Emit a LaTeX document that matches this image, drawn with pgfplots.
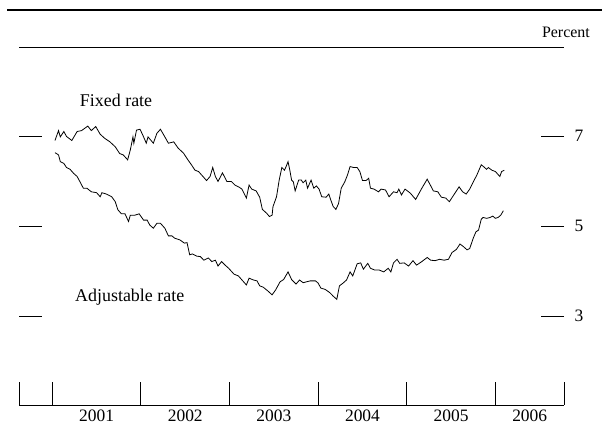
\documentclass[border=0pt]{standalone}
\usepackage{fontspec}
\setmainfont{Liberation Serif}
\usepackage{pgfplots}
\pgfplotsset{compat=1.18}

% weekly rates (percent)
\pgfplotstableread{
t rate
2001.03 6.90
2001.07 7.12
2001.09 6.98
2001.13 7.10
2001.16 6.99
2001.22 6.90
2001.28 7.10
2001.33 7.12
2001.40 7.22
2001.44 7.12
2001.49 7.21
2001.54 7.04
2001.59 6.95
2001.65 6.87
2001.71 6.76
2001.76 6.61
2001.80 6.58
2001.85 6.47
2001.88 6.69
2001.91 6.98
2001.92 6.84
2001.95 7.13
2001.99 7.15
2002.03 6.98
2002.06 6.84
2002.08 6.98
2002.14 6.84
2002.18 7.06
2002.22 7.15
2002.27 6.98
2002.31 6.84
2002.37 6.87
2002.42 6.73
2002.48 6.62
2002.53 6.47
2002.57 6.36
2002.61 6.24
2002.65 6.21
2002.70 6.10
2002.74 6.01
2002.78 6.10
2002.81 6.30
2002.84 6.10
2002.87 5.99
2002.92 6.18
2002.97 5.99
2003.02 5.99
2003.06 5.91
2003.11 5.86
2003.14 5.82
2003.19 5.62
2003.22 5.91
2003.25 5.82
2003.30 5.78
2003.34 5.64
2003.37 5.37
2003.42 5.28
2003.45 5.21
2003.48 5.24
2003.49 5.43
2003.53 5.65
2003.56 6.02
2003.59 6.30
2003.62 6.24
2003.64 6.33
2003.66 6.43
2003.68 6.24
2003.70 6.02
2003.72 5.98
2003.74 5.78
2003.78 6.02
2003.81 6.02
2003.83 5.96
2003.86 6.02
2003.88 5.84
2003.92 6.02
2003.95 5.84
2003.98 5.89
2004.01 5.82
2004.04 5.65
2004.09 5.64
2004.12 5.71
2004.14 5.59
2004.17 5.43
2004.20 5.37
2004.23 5.50
2004.26 5.84
2004.30 5.98
2004.33 6.13
2004.36 6.32
2004.40 6.30
2004.44 6.30
2004.47 6.21
2004.50 6.01
2004.54 6.01
2004.57 6.06
2004.59 5.84
2004.63 5.82
2004.68 5.76
2004.71 5.82
2004.76 5.80
2004.80 5.65
2004.85 5.76
2004.89 5.74
2004.91 5.82
2004.94 5.69
2004.98 5.82
2005.04 5.73
2005.10 5.59
2005.17 5.84
2005.23 6.04
2005.26 5.93
2005.30 5.78
2005.35 5.76
2005.39 5.64
2005.44 5.62
2005.48 5.54
2005.53 5.69
2005.59 5.87
2005.63 5.76
2005.67 5.71
2005.71 5.82
2005.75 5.98
2005.79 6.13
2005.84 6.36
2005.86 6.33
2005.90 6.26
2005.92 6.30
2005.96 6.24
2006.00 6.21
2006.05 6.10
2006.07 6.21
2006.10 6.24
}\fixedtab

\pgfplotstableread{
t rate
2001.03 6.63
2001.07 6.58
2001.09 6.43
2001.13 6.39
2001.16 6.30
2001.20 6.26
2001.24 6.17
2001.28 6.10
2001.31 5.99
2001.35 5.84
2001.39 5.84
2001.44 5.76
2001.50 5.74
2001.54 5.65
2001.56 5.74
2001.61 5.71
2001.67 5.65
2001.71 5.54
2001.74 5.36
2001.78 5.27
2001.82 5.27
2001.86 5.10
2001.88 5.24
2001.93 5.24
2001.98 5.27
2002.03 5.13
2002.07 5.13
2002.10 5.02
2002.14 4.95
2002.18 5.06
2002.22 5.06
2002.27 4.95
2002.31 4.78
2002.35 4.78
2002.38 4.73
2002.44 4.69
2002.49 4.62
2002.52 4.63
2002.55 4.36
2002.58 4.38
2002.63 4.33
2002.67 4.32
2002.71 4.24
2002.76 4.29
2002.80 4.21
2002.84 4.24
2002.87 4.11
2002.91 4.21
2002.95 4.13
2002.99 4.06
2003.05 3.93
2003.10 3.89
2003.14 3.80
2003.19 3.69
2003.22 3.84
2003.27 3.80
2003.31 3.78
2003.34 3.67
2003.38 3.64
2003.43 3.56
2003.48 3.47
2003.52 3.58
2003.57 3.76
2003.61 3.81
2003.66 3.98
2003.70 3.81
2003.75 3.71
2003.79 3.80
2003.83 3.74
2003.87 3.76
2003.91 3.78
2003.97 3.78
2004.00 3.73
2004.03 3.62
2004.08 3.59
2004.13 3.52
2004.17 3.44
2004.21 3.37
2004.24 3.67
2004.28 3.73
2004.32 3.80
2004.36 3.98
2004.39 3.89
2004.44 4.16
2004.48 4.18
2004.51 4.04
2004.56 4.17
2004.59 4.06
2004.64 4.02
2004.69 4.02
2004.74 3.98
2004.79 4.06
2004.82 3.98
2004.85 4.18
2004.89 4.26
2004.92 4.17
2004.97 4.18
2005.02 4.11
2005.07 4.23
2005.11 4.13
2005.17 4.21
2005.23 4.30
2005.27 4.24
2005.32 4.23
2005.37 4.26
2005.42 4.24
2005.47 4.26
2005.51 4.41
2005.56 4.48
2005.60 4.60
2005.64 4.54
2005.68 4.47
2005.71 4.50
2005.75 4.73
2005.78 4.87
2005.81 4.91
2005.84 5.15
2005.86 5.19
2005.90 5.17
2005.94 5.19
2005.97 5.22
2006.00 5.17
2006.03 5.19
2006.06 5.24
2006.09 5.34
}\adjtab

\begin{document}
\begin{tikzpicture}
\begin{axis}[
    scale only axis,
    width=545bp, height=358bp,
    xmin=2000.624, xmax=2006.774,
    ymin=1.022, ymax=8.978,
    separate axis lines,
    x axis line style={line width=0.9bp},
    y axis line style={draw=none},
    tick align=inside,
    major tick length=23bp,
    tick style={black, line width=0.9bp},
    xtick={2000.624,2001,2002,2003,2004,2005,2006,2006.774},
    xtick pos=bottom,
    x tick label as interval,
    xticklabels={,2001,2002,2003,2004,2005,2006},
    xticklabel style={yshift=-1.5bp},
    ytick={3,5,7},
    yticklabel pos=right,
    ytick pos=both,
    yticklabel style={xshift=7bp},
    /pgf/number format/assume math mode=true,
    tick label style={font=\fontsize{17.5}{20}\selectfont},
    clip=false,
]
\addplot[black, line width=0.8bp] table[x=t, y=rate] {\fixedtab};
\addplot[black, line width=0.8bp] table[x=t, y=rate] {\adjtab};

\node[anchor=west, inner sep=0pt, font=\fontsize{18}{20}\selectfont] at (axis cs:2001.31,7.8) {Fixed rate};
\node[anchor=west, inner sep=0pt, font=\fontsize{18}{20}\selectfont] at (axis cs:2001.256,3.42) {Adjustable rate};
\node[anchor=base east, inner sep=0pt, font=\fontsize{16}{18}\selectfont] at (rel axis cs:1.0477,1.0279) {Percent};
\draw[line width=2.7bp] (rel axis cs:-0.022,1.10335) -- (rel axis cs:1.0697,1.10335);

\coordinate (bl) at (rel axis cs:-0.03486,-0.07542);
\coordinate (tr) at (rel axis cs:1.06972,1.13128);
\end{axis}
\pgfresetboundingbox
\path[use as bounding box] (bl) rectangle (tr);
\end{tikzpicture}
\end{document}
